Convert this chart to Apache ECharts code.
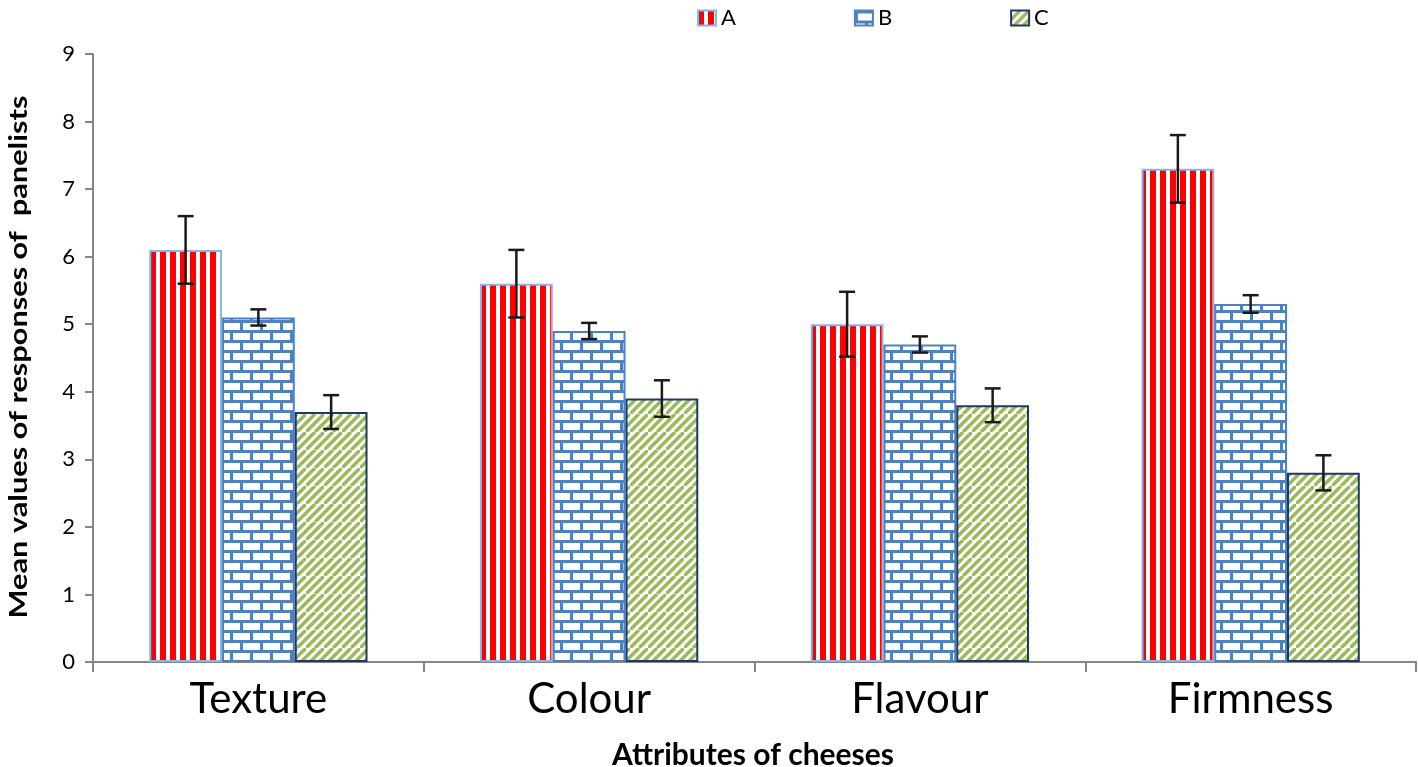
<!DOCTYPE html>
<html>
<head>
<meta charset="utf-8">
<style>
  html, body { margin: 0; padding: 0; background: #fff; }
  #chart { width: 1418px; height: 767px; }
</style>
<script src="https://cdn.jsdelivr.net/npm/echarts@6/dist/echarts.min.js"></script>
</head>
<body>
<div id="chart"></div>
<script>
// chart data
var categories = ['Texture', 'Colour', 'Flavour', 'Firmness'];
var seriesNames = ['A', 'B', 'C'];
var valuesA = [6.1, 5.6, 5.0, 7.3];
var valuesB = [5.1, 4.9, 4.7, 5.3];
var valuesC = [3.7, 3.9, 3.8, 2.8];
var errorsA = [0.5, 0.5, 0.48, 0.5];
var errorsB = [0.12, 0.12, 0.12, 0.13];
var errorsC = [0.25, 0.27, 0.25, 0.26];
var yTicks = [0, 1, 2, 3, 4, 5, 6, 7, 8, 9];

var FONT = 'Lato, "Liberation Sans", sans-serif';

// fill patterns drawn on small canvases
function stripePattern() {
  var c = document.createElement('canvas');
  c.width = 10; c.height = 10;
  var g = c.getContext('2d');
  g.fillStyle = '#fff';
  g.fillRect(0, 0, 10, 10);
  g.fillStyle = '#ff0000';
  g.fillRect(0, 0, 6, 10);
  return c;
}
function brickPattern() {
  var c = document.createElement('canvas');
  c.width = 20; c.height = 20;
  var g = c.getContext('2d');
  g.fillStyle = '#fff';
  g.fillRect(0, 0, 20, 20);
  g.fillStyle = '#4f81bd';
  g.fillRect(0, 0, 20, 3);
  g.fillRect(0, 10, 20, 3);
  g.fillRect(0, 0, 3, 10);
  g.fillRect(10, 10, 3, 10);
  return c;
}
function hatchPattern() {
  var c = document.createElement('canvas');
  c.width = 18; c.height = 18;
  var g = c.getContext('2d');
  g.fillStyle = '#fff';
  g.fillRect(0, 0, 18, 18);
  g.strokeStyle = '#9bbb59';
  g.lineWidth = 3.5;
  g.beginPath();
  g.moveTo(-9, 18); g.lineTo(9, 0);
  g.moveTo(0, 18); g.lineTo(18, 0);
  g.moveTo(9, 18); g.lineTo(27, 0);
  g.stroke();
  return c;
}

var fills = [
  { image: stripePattern(), repeat: 'repeat' },
  { image: brickPattern(), repeat: 'repeat' },
  { image: hatchPattern(), repeat: 'repeat' }
];
var borders = ['#8eb4e3', '#4f81bd', '#1f3864'];
var values = [valuesA, valuesB, valuesC];
var errors = [errorsA, errorsB, errorsC];

var catGap = 0.34;
var barFrac = (1 - catGap) / 3;

function errorData(i) {
  return values[i].map(function (v, k) {
    return [k, v - errors[i][k], v + errors[i][k]];
  });
}

function errorRender(idx) {
  return function (params, api) {
    var k = api.value(0);
    var lo = api.coord([k, api.value(1)]);
    var hi = api.coord([k, api.value(2)]);
    var bw = api.size([1, 0])[0] * barFrac;
    var x = lo[0] + (idx - 1) * bw;
    var cap = 8;
    var style = { stroke: '#1a1a1a', lineWidth: 2.5 };
    return {
      type: 'group',
      children: [
        { type: 'line', shape: { x1: x, y1: hi[1], x2: x, y2: lo[1] }, style: style },
        { type: 'line', shape: { x1: x - cap, y1: hi[1], x2: x + cap, y2: hi[1] }, style: style },
        { type: 'line', shape: { x1: x - cap, y1: lo[1], x2: x + cap, y2: lo[1] }, style: style }
      ]
    };
  };
}

var series = [];
seriesNames.forEach(function (name, i) {
  series.push({
    name: name,
    type: 'bar',
    data: values[i],
    barGap: '0%',
    barCategoryGap: (catGap * 100) + '%',
    itemStyle: { color: fills[i], borderColor: borders[i], borderWidth: 2 },
    emphasis: { disabled: true },
    animation: false,
    z: 2
  });
});
seriesNames.forEach(function (name, i) {
  series.push({
    name: name + ' error',
    type: 'custom',
    data: errorData(i),
    renderItem: errorRender(i),
    encode: { x: 0, y: [1, 2] },
    animation: false,
    silent: true,
    z: 5
  });
});

var chart = echarts.init(document.getElementById('chart'));
chart.setOption({
  backgroundColor: '#fff',
  animation: false,
  textStyle: { fontFamily: FONT },
  legend: {
    data: seriesNames,
    top: 2,
    left: 692,
    itemWidth: 18,
    itemHeight: 15,
    itemGap: 118,
    icon: 'rect',
    textStyle: { fontSize: 22, color: '#000', fontFamily: FONT }
  },
  grid: { left: 93, right: 2, top: 54, bottom: 105, containLabel: false },
  xAxis: {
    type: 'category',
    data: categories,
    axisLine: { lineStyle: { color: '#868686', width: 2 } },
    axisTick: { show: true, length: 10, lineStyle: { color: '#868686', width: 2 } },
    axisLabel: { fontSize: 42, color: '#000', margin: 16, fontFamily: FONT }
  },
  yAxis: {
    type: 'value',
    min: yTicks[0],
    max: yTicks[yTicks.length - 1],
    interval: 1,
    splitLine: { show: false },
    axisLine: { show: true, lineStyle: { color: '#868686', width: 2 } },
    axisTick: { show: true, length: 8, lineStyle: { color: '#868686', width: 2 } },
    axisLabel: { fontSize: 22, color: '#000', margin: 18, fontFamily: FONT }
  },
  graphic: [{
    // y axis title, stretched along its length like the source
    type: 'text',
    x: 19,
    y: 357,
    rotation: Math.PI / 2,
    scaleX: 1.28,
    style: {
      text: 'Mean values of responses of  panelists',
      font: 'bold 24px ' + FONT,
      fill: '#000',
      align: 'center',
      verticalAlign: 'middle'
    }
  }, {
    type: 'text',
    x: 753,
    y: 755,
    style: {
      text: 'Attributes of cheeses',
      font: 'bold 30px ' + FONT,
      fill: '#000',
      align: 'center',
      verticalAlign: 'middle'
    }
  }],
  series: series
});
</script>
</body>
</html>
